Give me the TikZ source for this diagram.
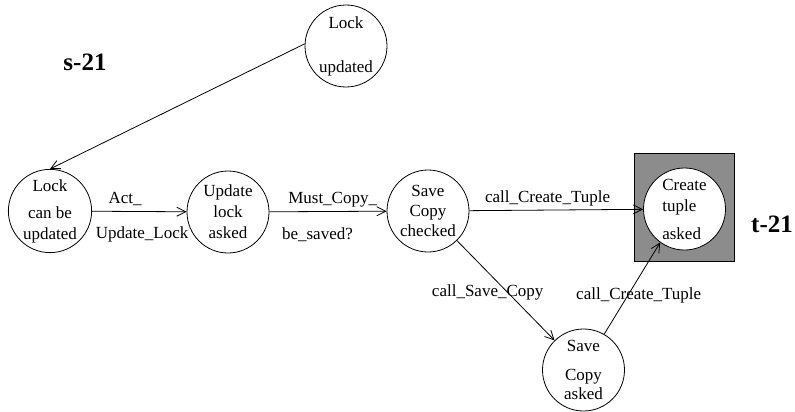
\documentclass[tikz,border=0pt]{standalone}
\usepackage{fontspec}
\setmainfont{Liberation Serif}
\usetikzlibrary{arrows.meta}
\tikzset{
  state/.style={draw,circle,line width=0.8pt,minimum size=82pt,inner sep=0pt,align=center,
    font=\fontsize{17}{21}\selectfont},
  trans/.style={line width=0.8pt,-{Straight Barb[length=9pt,width=9pt]}},
  lbl/.style={inner sep=0pt,font=\fontsize{17}{21}\selectfont},
  tag/.style={inner sep=0pt,font=\fontsize{25}{28}\selectfont\bfseries}
}
\begin{document}
\begin{tikzpicture}[x=1pt,y=-1pt]
  \useasboundingbox (0,0) rectangle (795,412);
  \fill[black!45] (634,153) rectangle (734,261);
  \draw[line width=0.8pt] (634,153) rectangle (734,261);

  \node[state] (lockup) at (346,46) {Lock\\[23pt]updated};
  \node[state] (lockcan) at (50,211) {Lock\\[6pt]can be\\updated};
  \node[state] (updask) at (228,212) {Update\\lock\\asked};
  \node[state] (savechk) at (428,211) {Save\\[-1pt]Copy\\[-1pt]checked};
  \node[state,fill=white,align=left] (create) at (684.5,209) {Create\\tuple\\[7pt]asked};
  \node[state] (saveask) at (583.5,370) {Save\\[8pt]Copy\hspace{12pt}\\[-2pt]asked};

  \node[tag] (s21) at (85,62) {s-21};
  \node[tag] (t21) at (772,224) {t-21};

  \draw[trans] (lockup.177) -- (lockcan.north);
  \draw[trans] (lockcan) -- (updask)
    node[lbl,pos=0.35,yshift=12pt] {Act\_}
    node[lbl,pos=0.53,yshift=-23pt] {Update\_Lock};
  \draw[trans] (updask) -- (savechk)
    node[lbl,pos=0.54,yshift=12pt] {Must\_Copy\_}
    node[lbl,pos=0.41,yshift=-23pt] {be\_saved?};
  \draw[trans] (savechk) -- (create)
    node[lbl,pos=0.45,yshift=12pt] {call\_Create\_Tuple};
  \draw[trans] (savechk) -- (saveask)
    node[lbl,pos=0.52,xshift=-20pt] {call\_Save\_Copy};
  \draw[trans] (saveask.60) -- (create.234)
    node[lbl,pos=0.42,xshift=11pt] {call\_Create\_Tuple};
\end{tikzpicture}
\end{document}
